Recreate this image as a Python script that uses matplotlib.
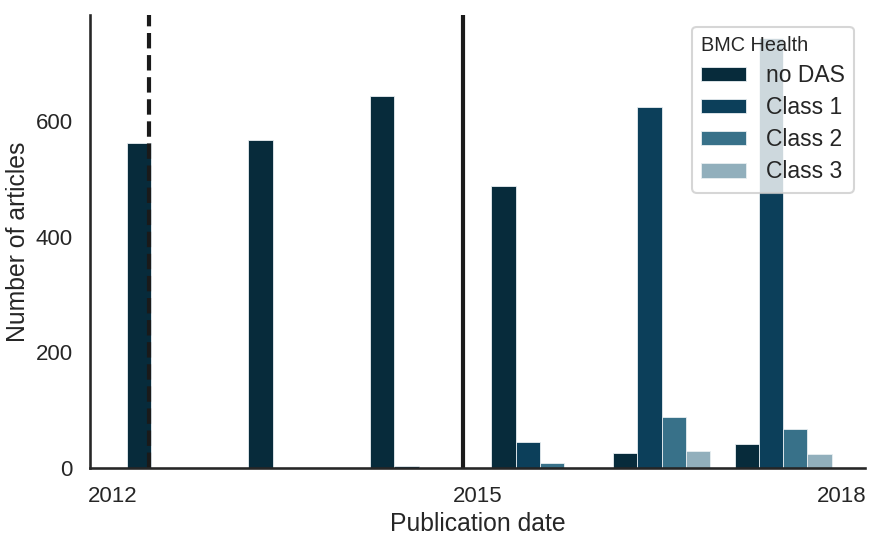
import numpy as np
import matplotlib
matplotlib.use('Agg')
import matplotlib.pyplot as plt
import seaborn as sns

years = [2012, 2013, 2014, 2015, 2016, 2017]
classes = ['no DAS', 'Class 1', 'Class 2', 'Class 3']
no_das = [562, 567, 643, 488, 26, 42]
class_1 = [0, 0, 3, 46, 624, 744]
class_2 = [0, 0, 0, 9, 89, 68]
class_3 = [0, 0, 0, 0, 30, 25]
colors = ['#072b3b', '#0c3f5a', '#387189', '#91afbc']
policy_dashed = 2012.30
policy_solid = 2014.877


def main():
    sns.set_theme(style='white', context='talk')
    plt.rcParams['font.family'] = ['Liberation Sans', 'DejaVu Sans']
    fig = plt.figure(figsize=(8.81, 5.4), dpi=100)
    ax = fig.add_axes([0.102, 0.133, 0.880, 0.839])

    x = np.array(years, dtype=float)
    width = 0.2
    series = [no_das, class_1, class_2, class_3]
    for i, (name, vals) in enumerate(zip(classes, series)):
        ax.bar(x + 0.215 + i * width, vals, width, color=colors[i],
               edgecolor='#e8eef1', linewidth=0.6, label=name)

    ax.axvline(policy_dashed, color='#1a1a1a', linestyle='--', linewidth=3)
    ax.axvline(policy_solid, color='#1a1a1a', linestyle='-', linewidth=3)

    ax.set_xlim(2011.81, 2018.19)
    ax.set_ylim(0, 783)
    ax.set_xticks([2012, 2015, 2018])
    ax.set_yticks([0, 200, 400, 600])
    ax.tick_params(labelsize=16)
    ax.set_xlabel('Publication date', fontsize=17.8)
    ax.set_ylabel('Number of articles', fontsize=17.8)
    sns.despine(ax=ax)

    leg = ax.legend(title='BMC Health', loc='upper right', fontsize=16.5,
                    title_fontsize=14.3, handlelength=1.95, handleheight=0.6,
                    handletextpad=0.85, labelspacing=0.4)
    leg._legend_box.align = 'left'

    fig.savefig('out.png', dpi=100)


if __name__ == '__main__':
    main()
